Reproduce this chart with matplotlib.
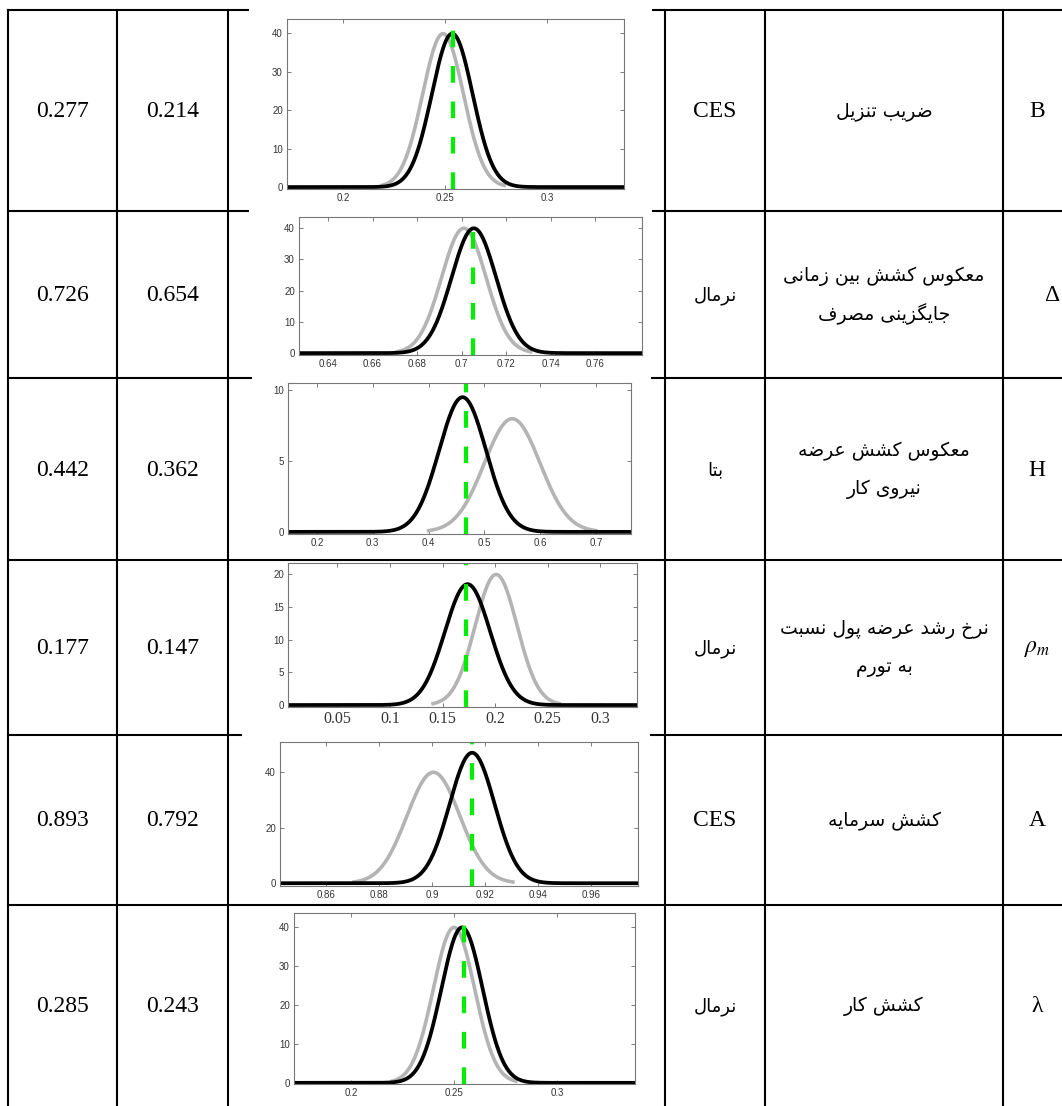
import numpy as np
import matplotlib
matplotlib.use('Agg')
import matplotlib.pyplot as plt
from matplotlib.patches import Rectangle

plt.rcParams['mathtext.fontset'] = 'stix'

# Table values
col1_values = ['0.277', '0.726', '0.442', '0.177', '0.893', '0.285']
col2_values = ['0.214', '0.654', '0.362', '0.147', '0.792', '0.243']
dist_names = ['CES', 'نرمال', 'بتا', 'نرمال', 'CES', 'نرمال']
param_names = [['ضریب تنزیل'],
               ['معکوس کشش بین زمانی', 'جایگزینی مصرف'],
               ['معکوس کشش عرضه', 'نیروی کار'],
               ['نرخ رشد عرضه پول نسبت', 'به تورم'],
               ['کشش سرمایه'],
               ['کشش کار']]
symbols = ['B', 'Δ', 'H', r'$\rho_m$', 'A', 'λ']

# Prior (gray) and posterior (black) densities, posterior mode (green)
prior_mean = [0.249, 0.701, 0.55, 0.201, 0.9005, 0.25]
prior_sd = [0.010, 0.010, 0.050, 0.020, 0.010, 0.010]
post_mean = [0.2535, 0.7055, 0.461, 0.1738, 0.9151, 0.2539]
post_sd = [0.010, 0.010, 0.042, 0.0216, 0.0085, 0.010]
mode_line = [0.2541, 0.7053, 0.468, 0.172, 0.915, 0.2548]

x_ticks = [[0.2, 0.25, 0.3],
           [0.64, 0.66, 0.68, 0.7, 0.72, 0.74, 0.76],
           [0.2, 0.3, 0.4, 0.5, 0.6, 0.7],
           [0.05, 0.1, 0.15, 0.2, 0.25, 0.3],
           [0.86, 0.88, 0.9, 0.92, 0.94, 0.96],
           [0.2, 0.25, 0.3]]
y_ticks = [[0, 10, 20, 30, 40],
           [0, 10, 20, 30, 40],
           [0, 5, 10],
           [0, 5, 10, 15, 20],
           [0, 20, 40],
           [0, 10, 20, 30, 40]]
x_lims = [(0.1725, 0.3377), (0.627, 0.781), (0.148, 0.763),
          (0.003, 0.335), (0.8426, 0.9777), (0.1723, 0.3379)]
y_lims = [(-0.5, 43.7), (-0.6, 43.5), (-0.15, 10.5),
          (-0.3, 21.7), (-1.0, 50.8), (-0.3, 43.6)]

# Persian letters -> presentation forms (isolated, final, initial, medial)
FORMS = {
    'ا': ('\uFE8D', '\uFE8E', None, None),
    'ب': ('\uFE8F', '\uFE90', '\uFE91', '\uFE92'),
    'پ': ('\uFB56', '\uFB57', '\uFB58', '\uFB59'),
    'ت': ('\uFE95', '\uFE96', '\uFE97', '\uFE98'),
    'ج': ('\uFE9D', '\uFE9E', '\uFE9F', '\uFEA0'),
    'خ': ('\uFEA5', '\uFEA6', '\uFEA7', '\uFEA8'),
    'د': ('\uFEA9', '\uFEAA', None, None),
    'ر': ('\uFEAD', '\uFEAE', None, None),
    'ز': ('\uFEAF', '\uFEB0', None, None),
    'س': ('\uFEB1', '\uFEB2', '\uFEB3', '\uFEB4'),
    'ش': ('\uFEB5', '\uFEB6', '\uFEB7', '\uFEB8'),
    'ص': ('\uFEB9', '\uFEBA', '\uFEBB', '\uFEBC'),
    'ض': ('\uFEBD', '\uFEBE', '\uFEBF', '\uFEC0'),
    'ع': ('\uFEC9', '\uFECA', '\uFECB', '\uFECC'),
    'ف': ('\uFED1', '\uFED2', '\uFED3', '\uFED4'),
    'ک': ('\uFB8E', '\uFB8F', '\uFB90', '\uFB91'),
    'گ': ('\uFB92', '\uFB93', '\uFB94', '\uFB95'),
    'ل': ('\uFEDD', '\uFEDE', '\uFEDF', '\uFEE0'),
    'م': ('\uFEE1', '\uFEE2', '\uFEE3', '\uFEE4'),
    'ن': ('\uFEE5', '\uFEE6', '\uFEE7', '\uFEE8'),
    'ه': ('\uFEE9', '\uFEEA', '\uFEEB', '\uFEEC'),
    'و': ('\uFEED', '\uFEEE', None, None),
    'ی': ('\uFBFC', '\uFBFD', '\uFBFE', '\uFBFF'),
}


def shape(text):
    # matplotlib has no arabic shaping, so do it by hand
    if not any(c in FORMS for c in text):
        return text
    out = []
    for i, c in enumerate(text):
        if c not in FORMS:
            out.append(c)
            continue
        prev = text[i - 1] if i > 0 else ''
        nxt = text[i + 1] if i + 1 < len(text) else ''
        f = FORMS[c]
        jp = prev in FORMS and FORMS[prev][2] is not None
        jn = nxt in FORMS and f[2] is not None
        if jp and jn:
            out.append(f[3])
        elif jp:
            out.append(f[1])
        elif jn:
            out.append(f[2])
        else:
            out.append(f[0])
    return ''.join(reversed(out))


def npdf(x, m, s):
    return np.exp(-0.5 * ((x - m) / s) ** 2) / (s * np.sqrt(2 * np.pi))


W, H = 1062, 1106
fig = plt.figure(figsize=(W / 100, H / 100), dpi=100)
bg = fig.add_axes([0, 0, 1, 1])
bg.set_xlim(0, W)
bg.set_ylim(H, 0)
bg.axis('off')

col_x = [8, 117, 228, 665, 765, 1003]
row_y = [10, 211, 378, 560, 735, 905, 1106]
lw_tab = 1.5
for x in col_x:
    bg.plot([x, x], [row_y[0], H], color='black', lw=lw_tab, zorder=1)
for y in row_y[:-1]:
    bg.plot([col_x[0], W], [y, y], color='black', lw=lw_tab, zorder=1)

# pasted images hide parts of the grid lines
for (l, t, r, b) in [(249, 0, 652, 214), (252, 207, 651, 382), (242, 730, 650, 900)]:
    bg.add_patch(Rectangle((l, t), r - l, b - t, facecolor='white', edgecolor='none', zorder=2))

serif = 'Liberation Serif'
for i in range(6):
    yc = (row_y[i] + row_y[i + 1]) / 2 + 1
    bg.text(62.5, yc, col1_values[i], ha='center', va='center', fontsize=17, family=serif)
    bg.text(172.5, yc, col2_values[i], ha='center', va='center', fontsize=17, family=serif)
    if dist_names[i] == 'CES':
        bg.text(715, yc, dist_names[i], ha='center', va='center', fontsize=17, family=serif)
    else:
        bg.text(715, yc, shape(dist_names[i]), ha='center', va='center', fontsize=13, family='DejaVu Sans')
    lines = param_names[i]
    n = len(lines)
    for k, ln in enumerate(lines):
        yy = yc + (k - (n - 1) / 2) * 38
        bg.text(884, yy, shape(ln), ha='center', va='center', fontsize=13.5, family='DejaVu Sans')
    sx = 1052 if symbols[i] == 'Δ' else 1037
    bg.text(sx, yc, symbols[i], ha='center', va='center', fontsize=17, family=serif)

# density plots
boxes = [(287, 19, 624, 189), (299, 217, 642, 355), (288, 383, 631, 534),
         (288, 563, 637, 707), (280, 742, 638, 886), (294, 913, 635, 1084)]
for i, (l, t, r, b) in enumerate(boxes):
    ax = fig.add_axes([l / W, 1 - b / H, (r - l) / W, (b - t) / H])
    ax.set_xlim(*x_lims[i])
    ax.set_ylim(*y_lims[i])
    xs = np.linspace(x_lims[i][0], x_lims[i][1], 500)
    xp = np.linspace(prior_mean[i] - 3 * prior_sd[i], prior_mean[i] + 3 * prior_sd[i], 300)
    ax.plot(xp, npdf(xp, prior_mean[i], prior_sd[i]), color='#b4b4b4', lw=2.6)
    ax.plot(xs, npdf(xs, post_mean[i], post_sd[i]), color='black', lw=2.7)
    ax.axvline(mode_line[i], color='#00ee00', lw=3, dashes=(4, 4.5))
    ax.set_xticks(x_ticks[i])
    ax.set_xticklabels(['%g' % v for v in x_ticks[i]])
    ax.set_yticks(y_ticks[i])
    ax.set_yticklabels(['%g' % v for v in y_ticks[i]])
    ax.tick_params(direction='in', top=True, right=True, length=3, width=0.6,
                   color='#666666', labelsize=7, labelcolor='#333333', pad=3)
    for lab in ax.get_xticklabels() + ax.get_yticklabels():
        lab.set_family('Liberation Sans')
    if i == 3:
        for lab in ax.get_xticklabels():
            lab.set_family(serif)
            lab.set_fontsize(11.5)
    for sp in ax.spines.values():
        sp.set_color('#777777')
        sp.set_linewidth(0.8)

plt.savefig('out.png', dpi=100)
